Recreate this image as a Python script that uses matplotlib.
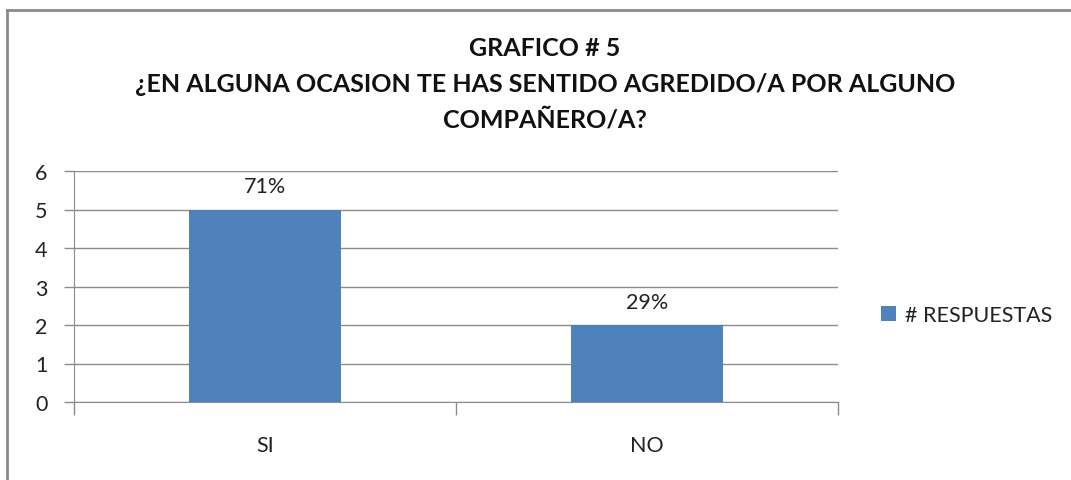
import matplotlib
matplotlib.use('Agg')
import matplotlib.pyplot as plt
from matplotlib.lines import Line2D

# data
categories = ['SI', 'NO']
respuestas = [5, 2]
porcentajes = ['71%', '29%']
y_ticks = [0, 1, 2, 3, 4, 5, 6]

title = ('GRAFICO # 5\n¿EN ALGUNA OCASION TE HAS SENTIDO AGREDIDO/A POR ALGUNO\n'
         'COMPAÑERO/A?')

plt.rcParams['font.family'] = ['Lato', 'DejaVu Sans']
bar_color = '#4F81BD'
grid_color = '#8C8C8C'
fs = 15.5

fig = plt.figure(figsize=(10.71, 4.81), dpi=100)

# outer chart frame (only left and top edges are visible in the crop)
fy = 1 - 11 / 481
fx = 7 / 1071
fig.lines.append(Line2D([fx, fx], [0, fy], transform=fig.transFigure, color='#8A8A8A', lw=2))
fig.lines.append(Line2D([fx, 1], [fy, fy], transform=fig.transFigure, color='#8A8A8A', lw=2))

ax = fig.add_axes([74 / 1071, 1 - 403 / 481, (838 - 74) / 1071, (403 - 172) / 481])

x = list(range(len(categories)))
bars = ax.bar(x, respuestas, width=0.4, color=bar_color, zorder=3)
ax.set_xlim(-0.5, 1.5)
ax.set_ylim(0, 6)
ax.set_yticks(y_ticks)
ax.set_xticks(x)
ax.set_xticklabels(categories)
ax.tick_params(axis='both', labelsize=fs, labelcolor='#222222')
ax.tick_params(axis='y', length=7, width=1, color=grid_color, pad=12)
ax.tick_params(axis='x', length=0, pad=24)
# category boundary ticks
ax.set_xticks([-0.5, 0.5, 1.5], minor=True)
ax.tick_params(axis='x', which='minor', length=9, width=1, color=grid_color)

ax.grid(axis='y', color=grid_color, lw=1, zorder=0)
for side in ['top', 'right']:
    ax.spines[side].set_visible(False)
ax.spines['left'].set_color(grid_color)
ax.spines['bottom'].set_color(grid_color)

for b, lab in zip(bars, porcentajes):
    ax.text(b.get_x() + b.get_width() / 2, b.get_height() + 0.35, lab,
            ha='center', va='bottom', fontsize=fs, color='#222222')

fig.text(545 / 1071, 1 - 37 / 481, title, ha='center', va='top',
         fontsize=18, fontweight='bold', linespacing=1.68, color='#111111')

ax.legend(bars[:1], ['# RESPUESTAS'], loc='center left',
          bbox_to_anchor=(862 / 1071, 1 - 316 / 481), bbox_transform=fig.transFigure,
          frameon=False, fontsize=fs, handlelength=0.7, handleheight=0.7,
          handletextpad=0.4, labelcolor='#222222')

plt.savefig('out.png', dpi=100)
